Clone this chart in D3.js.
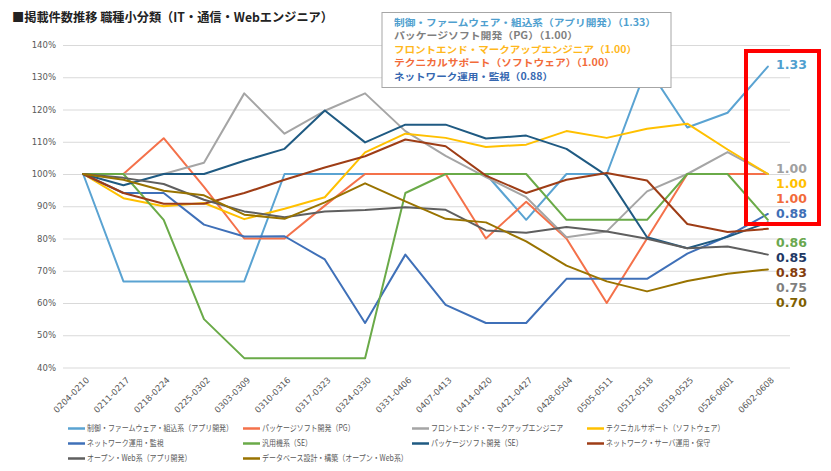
<!DOCTYPE html>
<html><head><meta charset="utf-8">
<script src="https://cdn.jsdelivr.net/npm/d3@7"></script>
<style>
html,body{margin:0;padding:0;background:#fff;}
svg{display:block;}
</style></head>
<body>
<script>
// ---------- DATA ----------
const title = "■掲載件数推移 職種小分類（IT・通信・Webエンジニア）";
const categories = ["0204-0210","0211-0217","0218-0224","0225-0302","0303-0309","0310-0316","0317-0323","0324-0330","0331-0406","0407-0413","0414-0420","0421-0427","0428-0504","0505-0511","0512-0518","0519-0525","0526-0601","0602-0608"];
const yTicks = [40,50,60,70,80,90,100,110,120,130,140];
const seriesNames = ["制御・ファームウェア・組込系（アプリ開発）","パッケージソフト開発（PG）","フロントエンド・マークアップエンジニア","テクニカルサポート（ソフトウェア）","ネットワーク運用・監視","汎用機系（SE）","パッケージソフト開発（SE）","ネットワーク・サーバ運用・保守","オープン・Web系（アプリ開発）","データベース設計・構築（オープン・Web系）"];
const sEmbedded  = [100,66.7,66.7,66.7,66.7,100,100,100,100,100,100,85.8,100,100,133.3,114.4,119,133.3];
const sPkgPG     = [100,100,111.1,96,80,80,90.2,100,100,100,80,91.4,80,60,80,100,100,100];
const sFrontend  = [100,100,100,103.5,125,112.5,119.6,125,113.3,105.6,99,92.8,80.4,82.2,94.6,100,106.8,100];
const sTechSup   = [100,92.5,90,91,86,89.2,92.8,106.7,112.5,111.2,108.4,109.1,113.3,111.2,114,115.6,107.6,100];
const sNetOps    = [100,94.1,94.1,84.3,80.6,80.7,73.5,53.8,75,59.4,53.8,53.8,67.5,67.5,67.5,75.3,80.7,87.6];
const sMainframe = [100,100,85.8,55,42.9,42.9,42.9,42.9,94.1,100,100,100,85.8,85.8,85.8,100,100,85.8];
const sPkgSE     = [100,96.5,100,100,104.1,107.8,119.7,109.8,115.3,115.3,111,111.9,107.8,99.5,80.4,77,80.5,85];
const sNetSrv    = [100,94.1,90.8,90.8,94.1,98.2,102,105.5,110.7,108.6,99.5,94.1,98.2,100.3,98,84.5,82,83];
const sOpenWeb   = [100,98.8,96.9,92,88.4,86.6,88.4,88.8,89.7,88.9,82.5,81.8,83.6,82.2,79.9,77,77.5,75];
const sDatabase  = [100,98.2,94.8,93.4,87.4,86.1,91.2,97.1,91.5,86.1,85,79.1,71.6,66.7,63.6,66.8,69.1,70.4];
const seriesValues = [sEmbedded,sPkgPG,sFrontend,sTechSup,sNetOps,sMainframe,sPkgSE,sNetSrv,sOpenWeb,sDatabase];
const boxLines = ["制御・ファームウェア・組込系（アプリ開発）（1.33）","パッケージソフト開発（PG）（1.00）","フロントエンド・マークアップエンジニア（1.00）","テクニカルサポート（ソフトウェア）（1.00）","ネットワーク運用・監視（0.88）"];
const endLabels = ["1.33","1.00","1.00","1.00","0.88","0.86","0.85","0.83","0.75","0.70"];

// ---------- STYLE / LAYOUT ----------
const seriesColors = ["#5aa3d2","#f4714a","#a5a5a5","#ffc000","#3f70b8","#6aaa48","#1f5a82","#9e3d16","#5f5f5f","#997300"];
const boxColors = ["#4f9fcf","#7f7f7f","#ffb81c","#f26b3a","#3567b0"];
const boxWidths = [262,184,243,221,159];
const endColors = ["#4f9fcf","#a0a0a0","#ffc000","#f26b3a","#3f6fb6","#6aa84f","#1f3864","#843c0c","#7f7f7f","#7f6000"];
const cjk = "'Noto Sans CJK JP','Noto Sans',sans-serif";
const lat = "'DejaVu Sans',Verdana,sans-serif";

const W = 831, H = 471;
const svg = d3.select("body").append("svg").attr("width",W).attr("height",H);

const x = d3.scalePoint().domain(categories).range([63,788]).padding(0.5);
const y = d3.scaleLinear().domain([40,140]).range([367.5,45]);

// title
svg.append("text").attr("x",12).attr("y",22).attr("font-family",cjk).attr("font-weight","bold")
  .attr("font-size",12.5).attr("fill","#222").text(title)
  .attr("textLength",321).attr("lengthAdjust","spacingAndGlyphs");

// y axis + grid
const ya = svg.append("g").attr("transform","translate(63,0)")
  .call(d3.axisLeft(y).tickValues(yTicks).tickSize(-727).tickPadding(7).tickFormat(d=>d+"%"));
ya.select(".domain").remove();
ya.selectAll("line").attr("stroke","#d9d9d9").attr("stroke-width",1);
ya.selectAll("text").attr("fill","#595959").attr("font-size",8.5).attr("font-family",lat);

// x axis labels
const xa = svg.append("g").attr("transform","translate(0,367.5)")
  .call(d3.axisBottom(x).tickSize(0));
xa.select(".domain").remove();
xa.selectAll("text").attr("fill","#595959").attr("font-size",8.5).attr("font-family",lat)
  .attr("text-anchor","end").attr("y",0).attr("dy","0.35em")
  .attr("transform","translate(4,11) rotate(-45)");

// lines
const line = d3.line().x((d,i)=>x(categories[i])).y(d=>y(d));
svg.append("g").selectAll("path").data(seriesValues).join("path")
  .attr("d",line).attr("fill","none")
  .attr("stroke",(d,i)=>seriesColors[i]).attr("stroke-width",2)
  .attr("stroke-linejoin","round").attr("stroke-linecap","round");

// annotation box
svg.append("rect").attr("x",382).attr("y",12.5).attr("width",289).attr("height",75)
  .attr("fill","#fff").attr("stroke","#a6a6a6").attr("stroke-width",1);
svg.append("g").selectAll("text").data(boxLines).join("text")
  .attr("x",394).attr("y",(d,i)=>26+i*13.4)
  .attr("font-family",cjk).attr("font-weight","bold").attr("font-size",9.6)
  .attr("textLength",(d,i)=>boxWidths[i]).attr("lengthAdjust","spacingAndGlyphs")
  .attr("fill",(d,i)=>boxColors[i]).text(d=>d);

// red highlight
svg.append("rect").attr("x",746).attr("y",51).attr("width",73).attr("height",173)
  .attr("fill","none").attr("stroke","#ff0000").attr("stroke-width",4);

// end labels
const endY = (i)=> i===0 ? 64 : (i<=4 ? 168+(i-1)*15 : 242+(i-5)*15);
svg.append("g").selectAll("text").data(endLabels).join("text")
  .attr("x",776).attr("y",(d,i)=>endY(i)).attr("dy","0.36em")
  .attr("font-family",lat).attr("font-weight","bold").attr("font-size",12.5)
  .attr("fill",(d,i)=>endColors[i]).text(d=>d);

// bottom legend
const colX = [68,243,412,587], rowY = [428.5,443.5,458.5];
const lg = svg.append("g").selectAll("g").data(seriesNames).join("g")
  .attr("transform",(d,i)=>`translate(${colX[i%4]},${rowY[Math.floor(i/4)]})`);
lg.append("line").attr("x1",0).attr("x2",17).attr("y1",0).attr("y2",0)
  .attr("stroke",(d,i)=>seriesColors[i]).attr("stroke-width",2.5);
lg.append("text").attr("transform","translate(19,0) scale(0.82,1)").attr("dy","0.35em")
  .attr("font-family",cjk).attr("font-size",8.5).attr("fill","#595959").text(d=>d);
</script>
</body></html>
